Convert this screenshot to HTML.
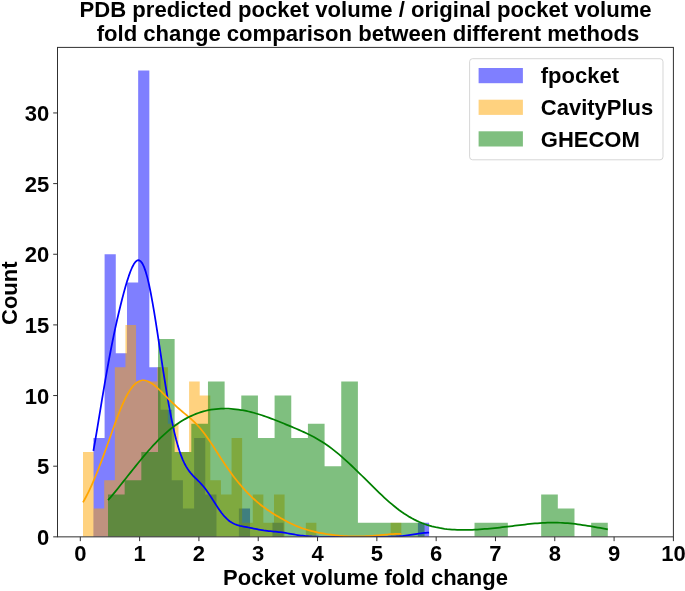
<!DOCTYPE html>
<html><head><meta charset="utf-8"><title>Pocket volume fold change</title>
<style>
html,body{margin:0;padding:0;background:#fff;}
svg{display:block;}
text{font-family:"Liberation Sans",Arial,Helvetica,sans-serif;font-weight:bold;fill:#000;}
.t{font-size:22px;}
.h{font-size:22.1px;}
</style></head>
<body>
<svg width="685" height="591" viewBox="0 0 685 591">
<defs><clipPath id="c"><rect x="57.5" y="47.4" width="615.90" height="489.45"/></clipPath></defs>
<rect width="685" height="591" fill="#fff"/>
<g clip-path="url(#c)"><path d="M93.40 536.85V437.94H104.59V536.85ZM104.59 536.85V254.25H115.78V536.85ZM115.78 536.85V353.16H126.97V536.85ZM126.97 536.85V282.51H138.16V536.85ZM138.16 536.85V70.56H149.35V536.85ZM149.35 536.85V367.29H160.54V536.85ZM160.54 536.85V409.68H171.73V536.85ZM171.73 536.85V480.33H182.92V536.85ZM182.92 536.85V508.59H194.11V536.85ZM194.11 536.85V437.94H205.30V536.85ZM205.30 536.85V494.46H216.49V536.85ZM238.87 536.85V508.59H250.06V536.85ZM272.44 536.85V522.72H283.63V536.85ZM417.91 536.85V522.72H429.10V536.85Z" fill="rgb(0,0,255)" fill-opacity="0.5"/>
<path d="M83.00 536.85V452.07H93.61V536.85ZM93.61 536.85V508.59H104.22V536.85ZM104.22 536.85V480.33H114.83V536.85ZM114.83 536.85V367.29H125.44V536.85ZM125.44 536.85V324.90H136.05V536.85ZM136.05 536.85V381.42H146.66V536.85ZM146.66 536.85V381.42H157.27V536.85ZM157.27 536.85V367.29H167.88V536.85ZM167.88 536.85V423.81H178.49V536.85ZM178.49 536.85V452.07H189.10V536.85ZM189.10 536.85V381.42H199.71V536.85ZM199.71 536.85V395.55H210.32V536.85ZM210.32 536.85V480.33H220.93V536.85ZM220.93 536.85V494.46H231.54V536.85ZM231.54 536.85V437.94H242.15V536.85ZM242.15 536.85V522.72H252.76V536.85ZM252.76 536.85V494.46H263.37V536.85ZM263.37 536.85V522.72H273.98V536.85ZM273.98 536.85V494.46H284.59V536.85ZM305.81 536.85V522.72H316.42V536.85ZM390.69 536.85V522.72H401.30V536.85Z" fill="rgb(255,165,0)" fill-opacity="0.5"/>
<path d="M108.00 536.85V494.46H124.66V536.85ZM124.66 536.85V480.33H141.32V536.85ZM141.32 536.85V452.07H157.98V536.85ZM157.98 536.85V339.03H174.64V536.85ZM174.64 536.85V452.07H191.30V536.85ZM191.30 536.85V423.81H207.96V536.85ZM207.96 536.85V381.42H224.62V536.85ZM224.62 536.85V409.68H241.28V536.85ZM241.28 536.85V395.55H257.94V536.85ZM257.94 536.85V437.94H274.60V536.85ZM274.60 536.85V395.55H291.26V536.85ZM291.26 536.85V437.94H307.92V536.85ZM307.92 536.85V423.81H324.58V536.85ZM324.58 536.85V466.20H341.24V536.85ZM341.24 536.85V381.42H357.90V536.85ZM357.90 536.85V522.72H374.56V536.85ZM374.56 536.85V522.72H391.22V536.85ZM391.22 536.85V522.72H407.88V536.85ZM407.88 536.85V522.72H424.54V536.85ZM474.52 536.85V522.72H491.18V536.85ZM491.18 536.85V522.72H507.84V536.85ZM541.16 536.85V494.46H557.82V536.85ZM557.82 536.85V508.59H574.48V536.85ZM591.14 536.85V522.72H607.80V536.85Z" fill="rgb(0,128,0)" fill-opacity="0.5"/>
<polyline points="93.40,450.97 95.09,441.27 96.77,431.30 98.46,421.14 100.15,410.91 101.83,400.70 103.52,390.61 105.21,380.71 106.90,371.06 108.58,361.73 110.27,352.73 111.96,344.09 113.64,335.80 115.33,327.86 117.02,320.25 118.70,312.95 120.39,305.95 122.08,299.25 123.76,292.85 125.45,286.79 127.14,281.12 128.83,275.92 130.51,271.26 132.20,267.27 133.89,264.05 135.57,261.72 137.26,260.40 138.95,260.19 140.63,261.16 142.32,263.39 144.01,266.88 145.69,271.65 147.38,277.63 149.07,284.77 150.76,292.95 152.44,302.04 154.13,311.88 155.82,322.32 157.50,333.18 159.19,344.29 160.88,355.47 162.56,366.58 164.25,377.46 165.94,388.00 167.63,398.07 169.31,407.61 171.00,416.53 172.69,424.79 174.37,432.36 176.06,439.22 177.75,445.38 179.43,450.85 181.12,455.67 182.81,459.86 184.49,463.50 186.18,466.63 187.87,469.33 189.56,471.66 191.24,473.71 192.93,475.55 194.62,477.26 196.30,478.90 197.99,480.55 199.68,482.25 201.36,484.05 203.05,485.98 204.74,488.05 206.42,490.28 208.11,492.64 209.80,495.13 211.49,497.71 213.17,500.35 214.86,503.01 216.55,505.64 218.23,508.19 219.92,510.64 221.61,512.94 223.29,515.06 224.98,516.98 226.67,518.70 228.35,520.20 230.04,521.49 231.73,522.59 233.42,523.50 235.10,524.25 236.79,524.87 238.48,525.38 240.16,525.81 241.85,526.19 243.54,526.53 245.22,526.85 246.91,527.17 248.60,527.50 250.28,527.83 251.97,528.17 253.66,528.52 255.35,528.88 257.03,529.22 258.72,529.55 260.41,529.87 262.09,530.15 263.78,530.42 265.47,530.65 267.15,530.86 268.84,531.04 270.53,531.21 272.22,531.36 273.90,531.51 275.59,531.67 277.28,531.83 278.96,532.02 280.65,532.22 282.34,532.44 284.02,532.69 285.71,532.95 287.40,533.24 289.08,533.53 290.77,533.84 292.46,534.14 294.15,534.44 295.83,534.74 297.52,535.02 299.21,535.28 300.89,535.52 302.58,535.73 304.27,535.93 305.95,536.10 307.64,536.24 309.33,536.37 311.01,536.47 312.70,536.55 314.39,536.62 316.08,536.68 317.76,536.72 319.45,536.75 321.14,536.78 322.82,536.80 324.51,536.81 326.20,536.82 327.88,536.83 329.57,536.84 331.26,536.84 332.94,536.84 334.63,536.85 336.32,536.85 338.01,536.85 339.69,536.85 341.38,536.85 343.07,536.85 344.75,536.85 346.44,536.85 348.13,536.85 349.81,536.85 351.50,536.85 353.19,536.85 354.87,536.85 356.56,536.85 358.25,536.85 359.94,536.85 361.62,536.85 363.31,536.85 365.00,536.85 366.68,536.85 368.37,536.85 370.06,536.85 371.74,536.85 373.43,536.85 375.12,536.84 376.81,536.84 378.49,536.84 380.18,536.83 381.87,536.82 383.55,536.81 385.24,536.79 386.93,536.77 388.61,536.74 390.30,536.70 391.99,536.65 393.67,536.59 395.36,536.51 397.05,536.42 398.74,536.30 400.42,536.17 402.11,536.01 403.80,535.83 405.48,535.63 407.17,535.40 408.86,535.15 410.54,534.89 412.23,534.61 413.92,534.33 415.60,534.05 417.29,533.77 418.98,533.51 420.67,533.27 422.35,533.06 424.04,532.89 425.73,532.76 427.41,532.69 429.10,532.66" fill="none" stroke="rgb(0,0,255)" stroke-width="1.75" stroke-linejoin="round" stroke-linecap="butt"/>
<polyline points="83.00,502.32 84.60,499.51 86.20,496.53 87.80,493.39 89.40,490.09 91.00,486.65 92.60,483.07 94.20,479.36 95.80,475.53 97.40,471.59 98.99,467.54 100.59,463.39 102.19,459.16 103.79,454.83 105.39,450.44 106.99,445.99 108.59,441.50 110.19,436.99 111.79,432.48 113.39,428.01 114.99,423.59 116.59,419.26 118.19,415.05 119.79,410.98 121.39,407.09 122.99,403.40 124.59,399.93 126.19,396.71 127.79,393.76 129.39,391.09 130.98,388.71 132.58,386.63 134.18,384.86 135.78,383.39 137.38,382.23 138.98,381.36 140.58,380.77 142.18,380.46 143.78,380.40 145.38,380.59 146.98,381.00 148.58,381.62 150.18,382.43 151.78,383.41 153.38,384.54 154.98,385.79 156.58,387.15 158.18,388.61 159.78,390.13 161.38,391.70 162.97,393.31 164.57,394.95 166.17,396.58 167.77,398.22 169.37,399.83 170.97,401.41 172.57,402.97 174.17,404.48 175.77,405.95 177.37,407.39 178.97,408.78 180.57,410.15 182.17,411.49 183.77,412.81 185.37,414.13 186.97,415.46 188.57,416.80 190.17,418.18 191.77,419.61 193.37,421.09 194.96,422.64 196.56,424.27 198.16,425.99 199.76,427.79 201.36,429.69 202.96,431.69 204.56,433.77 206.16,435.94 207.76,438.19 209.36,440.50 210.96,442.88 212.56,445.30 214.16,447.76 215.76,450.23 217.36,452.72 218.96,455.21 220.56,457.69 222.16,460.14 223.76,462.56 225.36,464.94 226.95,467.28 228.55,469.58 230.15,471.82 231.75,474.01 233.35,476.15 234.95,478.23 236.55,480.26 238.15,482.24 239.75,484.16 241.35,486.04 242.95,487.86 244.55,489.64 246.15,491.37 247.75,493.04 249.35,494.67 250.95,496.25 252.55,497.78 254.15,499.26 255.75,500.69 257.35,502.07 258.94,503.41 260.54,504.70 262.14,505.95 263.74,507.16 265.34,508.33 266.94,509.47 268.54,510.57 270.14,511.64 271.74,512.68 273.34,513.69 274.94,514.69 276.54,515.66 278.14,516.61 279.74,517.55 281.34,518.46 282.94,519.36 284.54,520.23 286.14,521.09 287.74,521.92 289.34,522.73 290.93,523.52 292.53,524.27 294.13,525.00 295.73,525.70 297.33,526.37 298.93,527.01 300.53,527.62 302.13,528.20 303.73,528.75 305.33,529.27 306.93,529.76 308.53,530.22 310.13,530.66 311.73,531.08 313.33,531.47 314.93,531.84 316.53,532.20 318.13,532.54 319.73,532.86 321.33,533.16 322.92,533.46 324.52,533.73 326.12,534.00 327.72,534.25 329.32,534.49 330.92,534.71 332.52,534.92 334.12,535.12 335.72,535.31 337.32,535.48 338.92,535.63 340.52,535.77 342.12,535.90 343.72,536.01 345.32,536.11 346.92,536.20 348.52,536.27 350.12,536.33 351.72,536.37 353.32,536.40 354.91,536.42 356.51,536.43 358.11,536.42 359.71,536.40 361.31,536.37 362.91,536.32 364.51,536.26 366.11,536.19 367.71,536.11 369.31,536.02 370.91,535.91 372.51,535.80 374.11,535.68 375.71,535.54 377.31,535.40 378.91,535.26 380.51,535.11 382.11,534.96 383.71,534.80 385.31,534.66 386.90,534.51 388.50,534.37 390.10,534.24 391.70,534.13 393.30,534.02 394.90,533.94 396.50,533.87 398.10,533.82 399.70,533.79 401.30,533.78" fill="none" stroke="rgb(255,165,0)" stroke-width="1.75" stroke-linejoin="round" stroke-linecap="butt"/>
<polyline points="108.00,500.08 110.51,497.32 113.02,494.40 115.53,491.36 118.05,488.24 120.56,485.06 123.07,481.88 125.58,478.69 128.09,475.52 130.60,472.36 133.12,469.22 135.63,466.10 138.14,463.01 140.65,459.94 143.16,456.93 145.67,453.96 148.18,451.05 150.70,448.22 153.21,445.46 155.72,442.78 158.23,440.20 160.74,437.71 163.25,435.33 165.77,433.04 168.28,430.86 170.79,428.79 173.30,426.83 175.81,424.98 178.32,423.23 180.84,421.59 183.35,420.06 185.86,418.63 188.37,417.30 190.88,416.08 193.39,414.95 195.90,413.93 198.42,413.00 200.93,412.16 203.44,411.42 205.95,410.77 208.46,410.20 210.97,409.73 213.49,409.34 216.00,409.03 218.51,408.81 221.02,408.66 223.53,408.59 226.04,408.60 228.55,408.67 231.07,408.82 233.58,409.02 236.09,409.29 238.60,409.63 241.11,410.01 243.62,410.46 246.14,410.96 248.65,411.51 251.16,412.12 253.67,412.77 256.18,413.47 258.69,414.22 261.21,415.01 263.72,415.85 266.23,416.72 268.74,417.62 271.25,418.56 273.76,419.53 276.27,420.51 278.79,421.51 281.30,422.53 283.81,423.55 286.32,424.58 288.83,425.62 291.34,426.67 293.86,427.72 296.37,428.78 298.88,429.86 301.39,430.96 303.90,432.09 306.41,433.25 308.92,434.47 311.44,435.73 313.95,437.05 316.46,438.44 318.97,439.91 321.48,441.44 323.99,443.06 326.51,444.76 329.02,446.54 331.53,448.40 334.04,450.34 336.55,452.36 339.06,454.44 341.57,456.59 344.09,458.81 346.60,461.07 349.11,463.39 351.62,465.75 354.13,468.14 356.64,470.57 359.16,473.03 361.67,475.50 364.18,477.98 366.69,480.47 369.20,482.97 371.71,485.45 374.23,487.92 376.74,490.38 379.25,492.80 381.76,495.19 384.27,497.53 386.78,499.82 389.29,502.04 391.81,504.20 394.32,506.29 396.83,508.29 399.34,510.20 401.85,512.02 404.36,513.74 406.88,515.36 409.39,516.88 411.90,518.30 414.41,519.63 416.92,520.85 419.43,521.98 421.94,523.02 424.46,523.96 426.97,524.82 429.48,525.60 431.99,526.30 434.50,526.93 437.01,527.48 439.53,527.97 442.04,528.39 444.55,528.76 447.06,529.07 449.57,529.32 452.08,529.53 454.59,529.69 457.11,529.81 459.62,529.89 462.13,529.93 464.64,529.93 467.15,529.90 469.66,529.85 472.18,529.76 474.69,529.65 477.20,529.52 479.71,529.36 482.22,529.18 484.73,528.99 487.25,528.78 489.76,528.55 492.27,528.31 494.78,528.05 497.29,527.79 499.80,527.51 502.31,527.22 504.83,526.93 507.34,526.63 509.85,526.32 512.36,526.02 514.87,525.71 517.38,525.40 519.90,525.09 522.41,524.80 524.92,524.51 527.43,524.23 529.94,523.96 532.45,523.71 534.96,523.48 537.48,523.27 539.99,523.09 542.50,522.93 545.01,522.80 547.52,522.71 550.03,522.65 552.55,522.62 555.06,522.63 557.57,522.67 560.08,522.75 562.59,522.87 565.10,523.03 567.62,523.22 570.13,523.45 572.64,523.70 575.15,523.99 577.66,524.31 580.17,524.65 582.68,525.02 585.20,525.40 587.71,525.81 590.22,526.22 592.73,526.65 595.24,527.09 597.75,527.53 600.27,527.98 602.78,528.43 605.29,528.87 607.80,529.31" fill="none" stroke="rgb(0,128,0)" stroke-width="1.75" stroke-linejoin="round" stroke-linecap="butt"/></g>
<rect x="57.5" y="47.4" width="615.90" height="489.45" fill="none" stroke="#303030" stroke-width="1"/>
<line x1="80.30" y1="536.85" x2="80.30" y2="541.15" stroke="#303030" stroke-width="1"/><text x="80.30" y="560.5" text-anchor="middle" class="t">0</text><line x1="139.61" y1="536.85" x2="139.61" y2="541.15" stroke="#303030" stroke-width="1"/><text x="139.61" y="560.5" text-anchor="middle" class="t">1</text><line x1="198.92" y1="536.85" x2="198.92" y2="541.15" stroke="#303030" stroke-width="1"/><text x="198.92" y="560.5" text-anchor="middle" class="t">2</text><line x1="258.23" y1="536.85" x2="258.23" y2="541.15" stroke="#303030" stroke-width="1"/><text x="258.23" y="560.5" text-anchor="middle" class="t">3</text><line x1="317.54" y1="536.85" x2="317.54" y2="541.15" stroke="#303030" stroke-width="1"/><text x="317.54" y="560.5" text-anchor="middle" class="t">4</text><line x1="376.85" y1="536.85" x2="376.85" y2="541.15" stroke="#303030" stroke-width="1"/><text x="376.85" y="560.5" text-anchor="middle" class="t">5</text><line x1="436.16" y1="536.85" x2="436.16" y2="541.15" stroke="#303030" stroke-width="1"/><text x="436.16" y="560.5" text-anchor="middle" class="t">6</text><line x1="495.47" y1="536.85" x2="495.47" y2="541.15" stroke="#303030" stroke-width="1"/><text x="495.47" y="560.5" text-anchor="middle" class="t">7</text><line x1="554.78" y1="536.85" x2="554.78" y2="541.15" stroke="#303030" stroke-width="1"/><text x="554.78" y="560.5" text-anchor="middle" class="t">8</text><line x1="614.09" y1="536.85" x2="614.09" y2="541.15" stroke="#303030" stroke-width="1"/><text x="614.09" y="560.5" text-anchor="middle" class="t">9</text><line x1="673.40" y1="536.85" x2="673.40" y2="541.15" stroke="#303030" stroke-width="1"/><text x="673.40" y="560.5" text-anchor="middle" class="t">10</text><line x1="53.20" y1="536.85" x2="57.5" y2="536.85" stroke="#303030" stroke-width="1"/><text x="49.3" y="544.95" text-anchor="end" class="t">0</text><line x1="53.20" y1="466.20" x2="57.5" y2="466.20" stroke="#303030" stroke-width="1"/><text x="49.3" y="474.30" text-anchor="end" class="t">5</text><line x1="53.20" y1="395.55" x2="57.5" y2="395.55" stroke="#303030" stroke-width="1"/><text x="49.3" y="403.65" text-anchor="end" class="t">10</text><line x1="53.20" y1="324.90" x2="57.5" y2="324.90" stroke="#303030" stroke-width="1"/><text x="49.3" y="333.00" text-anchor="end" class="t">15</text><line x1="53.20" y1="254.25" x2="57.5" y2="254.25" stroke="#303030" stroke-width="1"/><text x="49.3" y="262.35" text-anchor="end" class="t">20</text><line x1="53.20" y1="183.60" x2="57.5" y2="183.60" stroke="#303030" stroke-width="1"/><text x="49.3" y="191.70" text-anchor="end" class="t">25</text><line x1="53.20" y1="112.95" x2="57.5" y2="112.95" stroke="#303030" stroke-width="1"/><text x="49.3" y="121.05" text-anchor="end" class="t">30</text>
<rect x="469.6" y="58.7" width="193.4" height="101.1" rx="3" ry="3" fill="#fff" fill-opacity="0.8" stroke="#ccc" stroke-opacity="0.8" stroke-width="1"/>
<rect x="478.6" y="68" width="44.3" height="15.2" fill="rgb(0,0,255)" fill-opacity="0.5"/>
<rect x="478.6" y="99.7" width="44.3" height="15.2" fill="rgb(255,165,0)" fill-opacity="0.5"/>
<rect x="478.6" y="131.3" width="44.3" height="15.2" fill="rgb(0,128,0)" fill-opacity="0.5"/>
<text x="540.8" y="83.3" class="t">fpocket</text>
<text x="540.8" y="114.9" class="t">CavityPlus</text>
<text x="540.8" y="146.6" class="t">GHECOM</text>
<text x="365.6" y="16.6" text-anchor="middle" class="h">PDB predicted pocket volume / original pocket volume</text>
<text x="368.0" y="40.9" text-anchor="middle" class="h">fold change comparison between different methods</text>
<text x="365.5" y="585.0" text-anchor="middle" class="t">Pocket volume fold change</text>
<text transform="translate(16.8 293.2) rotate(-90)" text-anchor="middle" class="t">Count</text>
</svg>
</body></html>
